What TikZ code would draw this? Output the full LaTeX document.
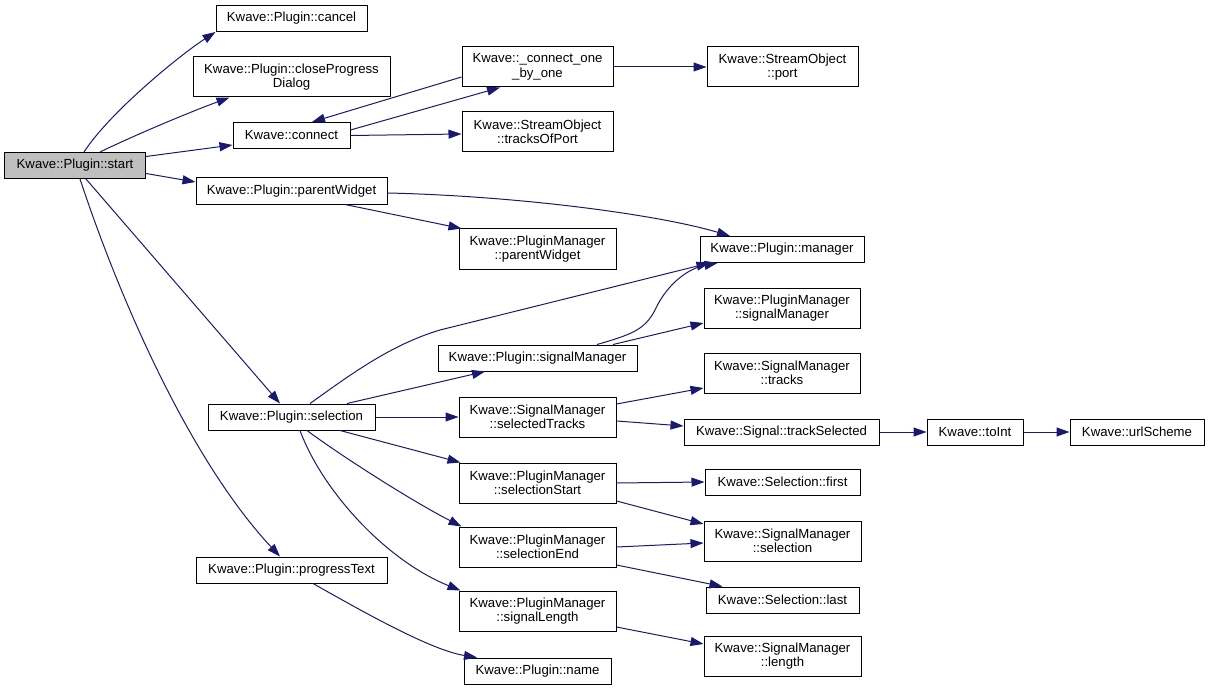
\documentclass[tikz,border=0pt]{standalone}
\usepackage{fontspec}
\setmainfont{Liberation Sans}
\usetikzlibrary{arrows.meta}
\definecolor{edgeblue}{HTML}{191970}
\definecolor{rootgray}{HTML}{BFBFBF}
\begin{document}
\begin{tikzpicture}[x=1bp,y=-1bp,
  box/.style={draw=black, line width=1bp, fill=white, inner sep=0pt, align=center,
    font=\fontsize{13.2bp}{14.5bp}\selectfont},
  calls/.style={draw=edgeblue, line width=1bp, -{Triangle[length=13bp,width=9bp]}}]
\useasboundingbox (0,0) rectangle (1209,691);
% column 1
\node[box,fill=rootgray,minimum width=141bp,minimum height=26bp] (start) at (75,165.5) {Kwave::Plugin::start};
% column 2
\node[box,minimum width=151bp,minimum height=26bp] (cancel) at (291.5,18.5) {Kwave::Plugin::cancel};
\node[box,minimum width=197bp,minimum height=40bp] (close) at (291.5,77) {Kwave::Plugin::closeProgress\\Dialog};
\node[box,minimum width=117bp,minimum height=26bp] (connect) at (291.5,135.5) {Kwave::connect};
\node[box,minimum width=191bp,minimum height=26bp] (pwidget) at (291.5,191) {Kwave::Plugin::parentWidget};
\node[box,minimum width=167bp,minimum height=26bp] (sel) at (291.5,417) {Kwave::Plugin::selection};
\node[box,minimum width=191bp,minimum height=26bp] (ptext) at (291.5,570) {Kwave::Plugin::progressText};
% column 3
\node[box,minimum width=151bp,minimum height=40bp] (c1b1) at (537.5,67) {Kwave::\_connect\_one\\\_by\_one};
\node[box,minimum width=151bp,minimum height=40bp] (top) at (537.5,132) {Kwave::StreamObject\\::tracksOfPort};
\node[box,minimum width=157bp,minimum height=40bp] (pmpw) at (537.5,249) {Kwave::PluginManager\\::parentWidget};
\node[box,minimum width=199bp,minimum height=26bp] (psm) at (537.5,358) {Kwave::Plugin::signalManager};
\node[box,minimum width=157bp,minimum height=40bp] (st) at (537.5,417) {Kwave::SignalManager\\::selectedTracks};
\node[box,minimum width=157bp,minimum height=40bp] (ss) at (537.5,483) {Kwave::PluginManager\\::selectionStart};
\node[box,minimum width=157bp,minimum height=40bp] (se) at (537.5,547) {Kwave::PluginManager\\::selectionEnd};
\node[box,minimum width=157bp,minimum height=40bp] (sl) at (537.5,611) {Kwave::PluginManager\\::signalLength};
\node[box,minimum width=147bp,minimum height=26bp] (name) at (537.5,671) {Kwave::Plugin::name};
% column 4
\node[box,minimum width=151bp,minimum height=40bp] (port) at (782.5,67) {Kwave::StreamObject\\::port};
\node[box,minimum width=164bp,minimum height=26bp] (manager) at (782,249.5) {Kwave::Plugin::manager};
\node[box,minimum width=156bp,minimum height=40bp] (pmsm) at (782,308) {Kwave::PluginManager\\::signalManager};
\node[box,minimum width=156bp,minimum height=40bp] (smt) at (782,373) {Kwave::SignalManager\\::tracks};
\node[box,minimum width=195bp,minimum height=26bp] (tsel) at (781.5,432) {Kwave::Signal::trackSelected};
\node[box,minimum width=155bp,minimum height=26bp] (first) at (782.5,482) {Kwave::Selection::first};
\node[box,minimum width=157bp,minimum height=40bp] (smsel) at (782.5,541) {Kwave::SignalManager\\::selection};
\node[box,minimum width=153bp,minimum height=26bp] (last) at (782.5,600) {Kwave::Selection::last};
\node[box,minimum width=157bp,minimum height=40bp] (smlen) at (782.5,656) {Kwave::SignalManager\\::length};
% columns 5, 6
\node[box,minimum width=96bp,minimum height=26bp] (toint) at (975,432) {Kwave::toInt};
\node[box,minimum width=134bp,minimum height=26bp] (url) at (1137,432) {Kwave::urlScheme};
% edges
\draw[calls] ([xshift=9bp]start.north) .. controls (110,112) and (180,55) .. (cancel.south west);
\draw[calls] ([xshift=25bp]start.north) .. controls (135,135) and (190,112) .. ([xshift=37bp]close.south west);
\draw[calls] ([yshift=9bp]start.east) -- ([yshift=-9.5bp]connect.west);
\draw[calls] ([yshift=-8bp]start.east) -- ([yshift=9bp]pwidget.west);
\draw[calls] ([xshift=11bp]start.south) -- ([xshift=-11.5bp]sel.north);
\draw[calls] ([xshift=5bp]start.south) .. controls (120,300) and (190,460) .. ([xshift=-11.5bp]ptext.north);
\draw[calls] ([yshift=5.5bp]connect.east) -- ([xshift=-37.5bp]c1b1.south);
\draw[calls] ([yshift=-10bp]c1b1.west) -- ([xshift=20.5bp]connect.north);
\draw[calls] (c1b1.east) -- (port.west);
\draw[calls] (connect.east) -- ([yshift=-2bp]top.west);
\draw[calls] ([yshift=-2bp]pwidget.east) .. controls (520,196) and (660,215) .. ([xshift=-52bp]manager.north);
\draw[calls] ([xshift=53.5bp]pwidget.south) -- ([xshift=3bp]pmpw.north west);
\draw[calls] ([xshift=18.5bp]sel.north) .. controls (350,375) and (390,345) .. (440,330) -- ([xshift=10bp]manager.south west);
\draw[calls] ([xshift=59.5bp]psm.north) .. controls (630,335) and (645,330) .. (655,310) .. controls (668,282) and (690,268) .. ([xshift=18bp]manager.south west);
\draw[calls] ([xshift=75.5bp]psm.north) -- ([yshift=-15bp]pmsm.west);
\draw[calls] ([xshift=55.5bp]sel.north) -- ([xshift=-52.5bp]psm.south);
\draw[calls] (sel.east) -- (st.west);
\draw[calls] ([yshift=13bp]st.east) -- ([yshift=-15bp]smt.west);
\draw[calls] ([yshift=-4bp]st.east) -- ([yshift=6bp]tsel.west);
\draw[calls] (tsel.east) -- (toint.west);
\draw[calls] (toint.east) -- (url.west);
\draw[calls] ([xshift=48.5bp]sel.south) -- ([xshift=2bp]ss.north west);
\draw[calls] ([xshift=15.5bp]sel.south) .. controls (340,455) and (410,500) .. ([xshift=3bp]se.north west);
\draw[calls] ([xshift=8.5bp]sel.south) .. controls (322,490) and (385,560) .. ([xshift=2bp]sl.north west);
\draw[calls] ([xshift=21.5bp]ptext.south) .. controls (360,610) and (430,650) .. ([xshift=-60.5bp]name.north);
\draw[calls] (ss.east) -- (first.west);
\draw[calls] ([yshift=-18bp]ss.east) -- ([yshift=17bp]smsel.west);
\draw[calls] (se.east) -- ([yshift=-2bp]smsel.west);
\draw[calls] ([yshift=-18bp]se.east) -- ([xshift=17bp]last.north west);
\draw[calls] ([yshift=-16bp]sl.east) -- ([yshift=12bp]smlen.west);
\end{tikzpicture}
\end{document}
